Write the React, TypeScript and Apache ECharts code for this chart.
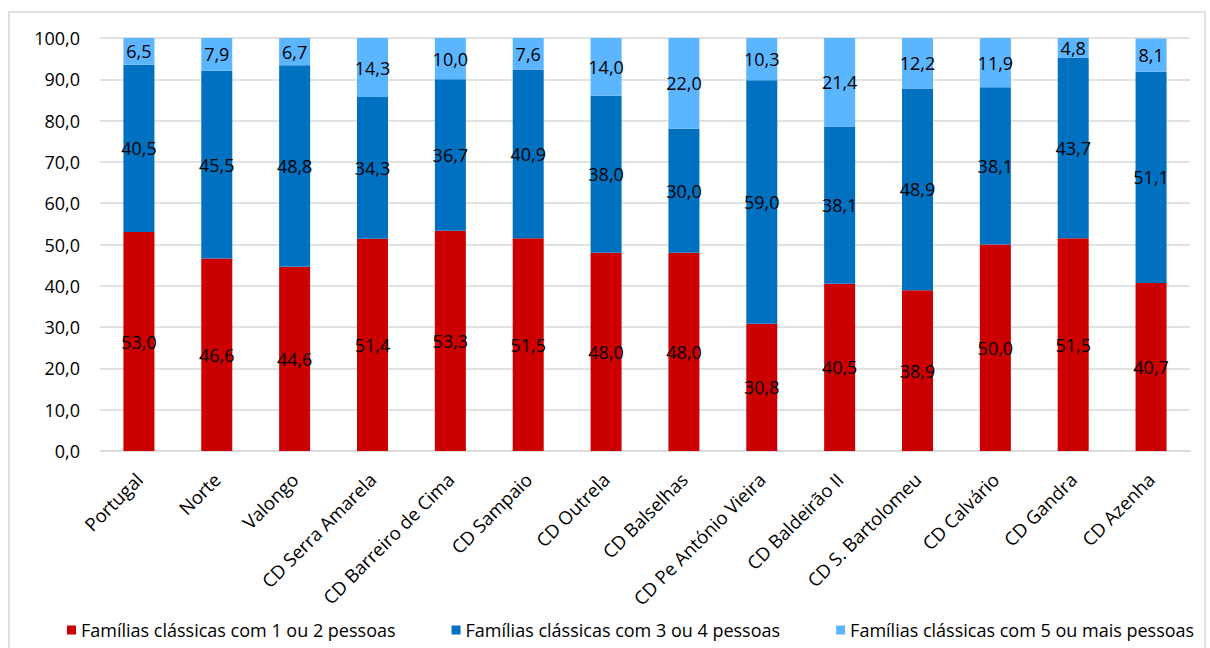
import React, { useEffect, useRef } from "react";
import * as echarts from "echarts";

const categories = [
  "Portugal",
  "Norte",
  "Valongo",
  "CD Serra Amarela",
  "CD Barreiro de Cima",
  "CD Sampaio",
  "CD Outrela",
  "CD Balselhas",
  "CD Pe António Vieira",
  "CD Baldeirão II",
  "CD S. Bartolomeu",
  "CD Calvário",
  "CD Gandra",
  "CD Azenha",
];

const seriesNames = [
  "Famílias clássicas com 1 ou 2 pessoas",
  "Famílias clássicas com 3 ou 4 pessoas",
  "Famílias clássicas com 5 ou mais pessoas",
];

const small = [53.0, 46.6, 44.6, 51.4, 53.3, 51.5, 48.0, 48.0, 30.8, 40.5, 38.9, 50.0, 51.5, 40.7];
const medium = [40.5, 45.5, 48.8, 34.3, 36.7, 40.9, 38.0, 30.0, 59.0, 38.1, 48.9, 38.1, 43.7, 51.1];
const large = [6.5, 7.9, 6.7, 14.3, 10.0, 7.6, 14.0, 22.0, 10.3, 21.4, 12.2, 11.9, 4.8, 8.1];

const colors = ["#CC0000", "#0070C0", "#5BB5FF"];
const FONT = "'Open Sans', 'Noto Sans', sans-serif";

const fmt = (v: number) => v.toFixed(1).replace(".", ",");

export default function App() {
  const ref = useRef<HTMLDivElement>(null);
  useEffect(() => {
    if (!ref.current) return;
    const chart = echarts.init(ref.current, null, { renderer: "svg" });
    const mk = (name: string, data: number[], color: string) => ({
      name,
      type: "bar",
      stack: "total",
      data,
      barWidth: 31,
      itemStyle: { color },
      label: {
        show: true,
        position: "inside",
        color: "#000",
        fontSize: 18,
        fontFamily: FONT,
        formatter: (p: any) => fmt(p.value),
      },
    });
    chart.setOption({
      animation: false,
      textStyle: { fontFamily: FONT },
      graphic: [
        {
          type: "rect",
          shape: { x: 9, y: 12, width: 1196, height: 660 },
          style: { fill: "none", stroke: "#d9d9d9", lineWidth: 1.5 },
          silent: true,
        },
      ],
      grid: { left: 100, right: 20, top: 38, bottom: 197, containLabel: false },
      legend: {
        bottom: 4,
        left: 62,
        icon: "rect",
        itemWidth: 9,
        itemHeight: 9,
        itemGap: 56,
        textStyle: { fontSize: 18, color: "#000", fontFamily: FONT },
        data: seriesNames,
      },
      xAxis: {
        type: "category",
        data: categories,
        axisLine: { lineStyle: { color: "#d9d9d9", width: 1.5 } },
        axisTick: { show: false },
        axisLabel: {
          rotate: 45,
          interval: 0,
          color: "#000",
          fontSize: 18.5,
          fontFamily: FONT,
          margin: 25,
        },
      },
      yAxis: {
        type: "value",
        min: 0,
        max: 100,
        interval: 10,
        axisLine: { show: false },
        axisTick: { show: false },
        splitLine: { lineStyle: { color: "#d9d9d9", width: 1.5 } },
        axisLabel: {
          color: "#000",
          fontSize: 18,
          fontFamily: FONT,
          margin: 20,
          formatter: (v: number) => fmt(v),
        },
      },
      series: [
        mk(seriesNames[0], small, colors[0]),
        mk(seriesNames[1], medium, colors[1]),
        mk(seriesNames[2], large, colors[2]),
      ],
    });
    return () => chart.dispose();
  }, []);
  return (
    <div
      ref={ref}
      style={{ position: "fixed", left: 0, top: 0, width: 1210, height: 648, background: "#fff" }}
    />
  );
}
